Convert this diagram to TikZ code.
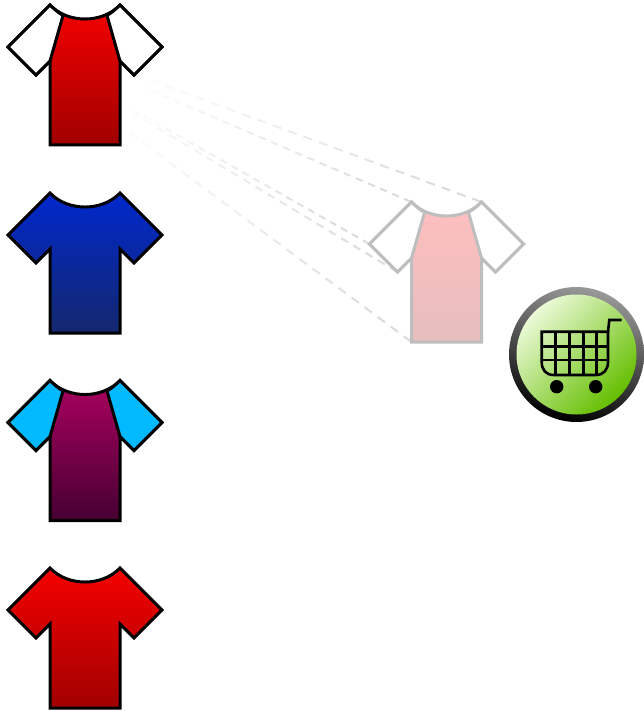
\documentclass[tikz,border=0pt]{standalone}
\usetikzlibrary{calc}

\definecolor{redtop}{RGB}{245,0,0}
\definecolor{redbot}{RGB}{160,0,0}
\definecolor{bluetop}{RGB}{0,40,205}
\definecolor{bluebot}{RGB}{20,40,110}
\definecolor{plumtop}{RGB}{170,0,95}
\definecolor{plumbot}{RGB}{70,0,50}
\definecolor{sleeveblue}{RGB}{0,185,255}
\definecolor{ghostline}{RGB}{190,190,190}
\definecolor{ghosttop}{RGB}{255,190,190}
\definecolor{ghostbot}{RGB}{230,190,190}
\definecolor{buttontop}{RGB}{235,250,215}
\definecolor{buttonmid}{RGB}{175,230,100}
\definecolor{buttongreen}{RGB}{100,190,0}

\newcommand{\fadeline}[2]{%
    \foreach \i in {0,...,21}
        \draw[trail, opacity={min(1,0.1+\i/21*1.0)}] ($(#1)!\i/21.6!(#2)$) -- ($(#1)!\i/21.6+0.026!(#2)$);
}

\tikzset{
    trail/.style={draw=ghostline!55, line width=2pt},
    cartline/.style={draw=black, line width=2.6pt},
    pics/shirt/.style n args={4}{code={ % body top, body bottom, sleeves, line
        \path[draw=#4, line width=3pt, top color=#1, bottom color=#2]
            (50,5) .. controls (68,23.7) and (102,23.7) .. (120,5)
            -- (162,47) -- (134,75) -- (120,61) -- (120,145) -- (50,145)
            -- (50,61) -- (36,75) -- (8,47) -- cycle;
        #3
    }},
}

\newcommand{\raglan}[2]{% sleeve colour, line colour
    \path[draw=#2, line width=3pt, fill=#1]
        (50,5) .. controls (54,9) and (58,12.5) .. (63,15.5)
        -- (50,61) -- (36,75) -- (8,47) -- cycle;
    \path[draw=#2, line width=3pt, fill=#1]
        (120,5) .. controls (116,9) and (112,12.5) .. (107,15.5)
        -- (120,61) -- (134,75) -- (162,47) -- cycle;
}

\begin{document}
\begin{tikzpicture}[x=1pt, y=-1pt]
    \path[use as bounding box] (0,0) rectangle (644,711);

    \pic (red) at (0,0) {shirt={redtop}{redbot}{\raglan{white}{black}}{black}};
    \pic (blue) at (0,188) {shirt={bluetop}{bluebot}{}{black}};
    \pic (plum) at (0,375.5) {shirt={plumtop}{plumbot}{\raglan{sleeveblue}{black}}{black}};
    \pic (full) at (0,563) {shirt={redtop}{redbot}{}{black}};

    % trails first, the copy hides their ends
    \coordinate (t1) at (150,80);
    \coordinate (t2) at (150,90);
    \coordinate (t3) at (133,110);
    \coordinate (t4) at (133,113);
    \coordinate (t5) at (130,133);
    \coordinate (g1) at (481.5,202);
    \coordinate (g2) at (411.5,202);
    \coordinate (g3) at (369.5,244);
    \coordinate (g4) at (397.5,272);
    \coordinate (g5) at (411.5,342);
    \foreach \n in {1,...,5} {
        \fadeline{t\n}{g\n}
    }

    \pic (ghost) at (361.5,197) {shirt={ghosttop}{ghostbot}{\raglan{white}{ghostline}}{ghostline}};

    % button
    \node[circle, minimum size=135pt, inner sep=0pt, top color=black!40, bottom color=black, shading angle=-15] (ring) at (576.5,354.5) {};
    \node[circle, minimum size=120pt, inner sep=0pt, top color=buttontop, middle color=buttonmid, bottom color=buttongreen, shading angle=45] (face) at (ring.center) {};

    % cart
    \begin{scope}[shift={(541.7,331.7)}]
        \draw[cartline] (0,15) -- (66.3,15) (0,28.3) -- (66.3,28.3);
        \foreach \x in {14,27.6,41.6,55}
            \draw[cartline] (\x,0) -- (\x,43.3);
        \draw[cartline] (0,0) -- (66.3,0) -- (66.3,30) .. controls (66.3,38) and (62,43.3) .. (54,43.3)
            -- (12,43.3) .. controls (4,43.3) and (0,38) .. (0,30) -- cycle;
        \draw[cartline] (80,-11.7) -- (67.6,-11.7) -- (66.3,0);
        \fill (15,55) circle (6.7);
        \fill (54,55) circle (6.7);
    \end{scope}
\end{tikzpicture}
\end{document}
